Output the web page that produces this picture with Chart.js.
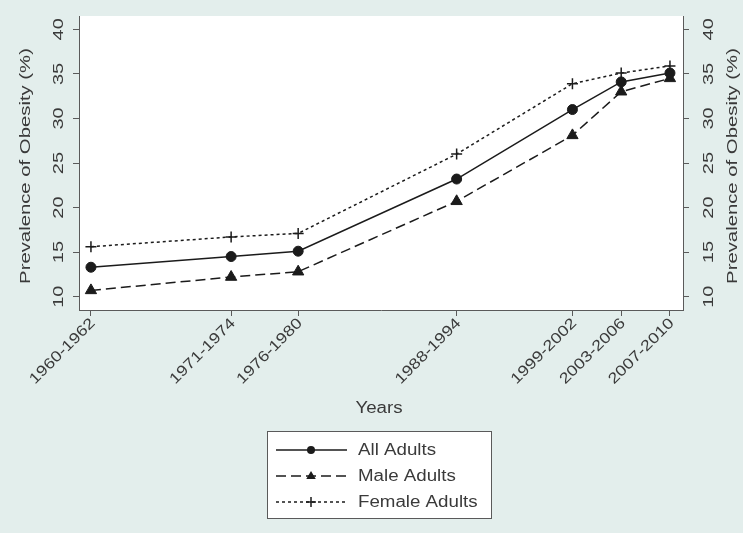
<!DOCTYPE html>
<html>
<head>
<meta charset="utf-8">
<script src="https://cdn.jsdelivr.net/npm/chart.js@4/dist/chart.umd.min.js"></script>
<style>
  html, body { margin: 0; padding: 0; background: #e3eeec; }
  #wrap { width: 743px; height: 533px; }
</style>
</head>
<body>
<div id="wrap"><canvas id="c" width="743" height="533"></canvas></div>
<script>
// ---- data ----
const periodLabels = ['1960-1962','1971-1974','1976-1980','1988-1994','1999-2002','2003-2006','2007-2010'];
const periodMidYears = [1961, 1972.5, 1978, 1991, 2000.5, 2004.5, 2008.5];
const allAdults = [13.3, 14.5, 15.1, 23.2, 31.0, 34.1, 35.1];
const maleAdults = [10.7, 12.2, 12.8, 20.7, 28.1, 33.0, 34.5];
const femaleAdults = [15.6, 16.7, 17.1, 26.0, 33.9, 35.1, 35.9];
const yTickValues = [10, 15, 20, 25, 30, 35, 40];
const seriesNames = ['All Adults', 'Male Adults', 'Female Adults'];
const yTitle = 'Prevalence of Obesity (%)';
const xTitle = 'Years';

const INK = '#1b1b1b';
const AXIS = '#5a5a5a';
const TXT = '#3a3a3a';
const FONT = "'Liberation Sans', Arial, sans-serif";

function pts(vals) { return periodMidYears.map((x, i) => ({ x: x, y: vals[i] })); }

const styles = [
  { dash: [], pointStyle: 'circle', radius: 5 },
  { dash: [10, 5], pointStyle: 'triangle', radius: 6.5 },
  { dash: [3, 3], pointStyle: 'cross', radius: 5.5 }
];
const seriesValues = [allAdults, maleAdults, femaleAdults];

const bgPlugin = {
  id: 'bg',
  beforeDraw(chart) {
    const ctx = chart.ctx, a = chart.chartArea;
    ctx.save();
    ctx.fillStyle = '#e3eeec';
    ctx.fillRect(0, 0, chart.width, chart.height);
    ctx.fillStyle = '#ffffff';
    ctx.fillRect(a.left, a.top, a.right - a.left, a.bottom - a.top);
    ctx.restore();
  }
};

function drawMarker(ctx, style, x, y, r) {
  ctx.save();
  ctx.fillStyle = INK; ctx.strokeStyle = INK; ctx.lineWidth = 1.5; ctx.setLineDash([]);
  if (style === 'circle') {
    ctx.beginPath(); ctx.arc(x, y, r, 0, Math.PI * 2); ctx.fill();
  } else if (style === 'triangle') {
    ctx.beginPath();
    ctx.moveTo(x, y - r);
    ctx.lineTo(x + r * 0.95, y + r * 0.6);
    ctx.lineTo(x - r * 0.95, y + r * 0.6);
    ctx.closePath(); ctx.fill();
  } else {
    ctx.beginPath();
    ctx.moveTo(x - r, y); ctx.lineTo(x + r, y);
    ctx.moveTo(x, y - r); ctx.lineTo(x, y + r);
    ctx.stroke();
  }
  ctx.restore();
}

// text drawn with a horizontal stretch along its own direction (the reference font is wide)
function sText(ctx, text, x, y, angle, sx, size, align, baseline) {
  ctx.save();
  ctx.translate(x, y);
  ctx.rotate(angle);
  ctx.scale(sx, 1);
  ctx.font = size + 'px ' + FONT;
  ctx.fillStyle = TXT;
  ctx.textAlign = align;
  ctx.textBaseline = baseline;
  ctx.fillText(text, 0, 0);
  ctx.restore();
}

const textPlugin = {
  id: 'texts',
  afterDraw(chart) {
    const ctx = chart.ctx, a = chart.chartArea;
    const ys = chart.scales.y, xs = chart.scales.x;
    const cy = (a.top + a.bottom) / 2 + 3;
    const V = -Math.PI / 2;
    // y tick labels, both sides
    yTickValues.forEach(v => {
      const py = ys.getPixelForValue(v);
      sText(ctx, String(v), 59, py, V, 1.38, 14.5, 'center', 'middle');
      sText(ctx, String(v), 709, py, V, 1.38, 14.5, 'center', 'middle');
    });
    // y titles
    sText(ctx, yTitle, 30, cy, V, 1.4, 14.5, 'center', 'alphabetic');
    sText(ctx, yTitle, 737, cy, V, 1.4, 14.5, 'center', 'alphabetic');
    // x tick labels
    periodMidYears.forEach((v, i) => {
      const px = xs.getPixelForValue(v);
      sText(ctx, periodLabels[i], px + 2, a.bottom + 11, -Math.PI / 4, 1.2, 15, 'right', 'middle');
    });
    // x title
    sText(ctx, xTitle, 379, 409, 0, 1.17, 16, 'center', 'middle');
    // legend
    const bx = 267, by = 431, bw = 224, bh = 87;
    ctx.save();
    ctx.fillStyle = '#ffffff';
    ctx.fillRect(bx, by, bw, bh);
    ctx.strokeStyle = AXIS; ctx.lineWidth = 1;
    ctx.strokeRect(bx + 0.5, by + 0.5, bw, bh);
    ctx.restore();
    const rows = [450, 476, 502];
    for (let i = 0; i < 3; i++) {
      const y = rows[i];
      ctx.save();
      ctx.strokeStyle = INK; ctx.lineWidth = 1.5; ctx.setLineDash(styles[i].dash);
      ctx.beginPath(); ctx.moveTo(276, y); ctx.lineTo(347, y); ctx.stroke();
      ctx.restore();
      drawMarker(ctx, styles[i].pointStyle, 311, y, i === 0 ? 4 : 5);
      sText(ctx, seriesNames[i], 358, y + 1, 0, 1.17, 16, 'left', 'middle');
    }
  }
};

const yScaleCommon = {
  type: 'linear',
  min: 8.5, max: 41.5,
  afterBuildTicks: (s) => { s.ticks = yTickValues.map(v => ({ value: v })); },
  grid: { display: true, drawOnChartArea: false, drawTicks: true, tickLength: 6, color: AXIS, lineWidth: 1 },
  border: { display: true, color: AXIS, width: 1 },
  ticks: { display: false }
};

new Chart(document.getElementById('c'), {
  type: 'line',
  data: {
    datasets: seriesValues.map((vals, i) => ({
      label: seriesNames[i],
      data: pts(vals),
      borderColor: INK,
      backgroundColor: INK,
      borderWidth: 1.5,
      borderDash: styles[i].dash,
      pointStyle: styles[i].pointStyle,
      pointRadius: styles[i].radius,
      pointBorderWidth: i === 2 ? 1.5 : 1,
      pointBorderColor: INK,
      pointBackgroundColor: INK,
      tension: 0,
      fill: false
    }))
  },
  options: {
    responsive: false,
    animation: false,
    devicePixelRatio: 1,
    layout: { padding: { top: 16, left: 0, right: 0, bottom: 0 } },
    plugins: { legend: { display: false }, tooltip: { enabled: false }, title: { display: false } },
    scales: {
      x: {
        type: 'linear',
        position: 'bottom',
        min: 1960.02, max: 2009.57,
        afterBuildTicks: (s) => { s.ticks = periodMidYears.map(v => ({ value: v })); },
        afterFit: (s) => { s.height = 223; },
        grid: { display: true, drawOnChartArea: false, drawTicks: true, tickLength: 6, color: AXIS, lineWidth: 1 },
        border: { display: true, color: AXIS, width: 1 },
        ticks: { display: false }
      },
      y: Object.assign({}, yScaleCommon, {
        position: 'left',
        afterFit: (s) => { s.width = 79; }
      }),
      y2: Object.assign({}, yScaleCommon, {
        position: 'right',
        afterFit: (s) => { s.width = 60; }
      })
    }
  },
  plugins: [bgPlugin, textPlugin]
});
</script>
</body>
</html>
